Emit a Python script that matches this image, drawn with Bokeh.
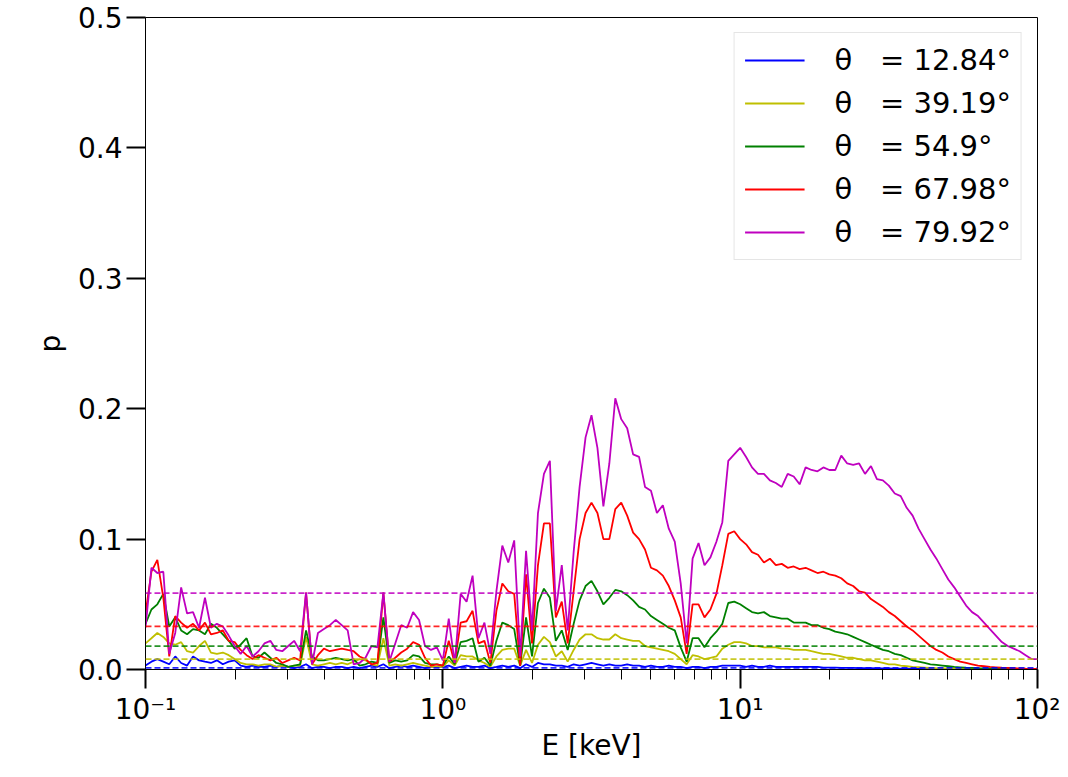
from bokeh.plotting import figure
from bokeh.models import (Span, Legend, LegendItem, CustomJSTickFormatter,
                          PrintfTickFormatter, FixedTicker, Range1d)
from bokeh.embed import file_html
from bokeh.resources import INLINE

# ---------------- data ----------------
energy_kev = [
    0.1000, 0.1047, 0.1096, 0.1148, 0.1202, 0.1259, 0.1318, 0.1380, 0.1445, 0.1514,
    0.1585, 0.1660, 0.1738, 0.1820, 0.1905, 0.1995, 0.2089, 0.2188, 0.2291, 0.2399,
    0.2512, 0.2630, 0.2754, 0.2884, 0.3020, 0.3162, 0.3311, 0.3467, 0.3631, 0.3802,
    0.3981, 0.4169, 0.4365, 0.4571, 0.4786, 0.5012, 0.5248, 0.5495, 0.5754, 0.6026,
    0.6310, 0.6607, 0.6918, 0.7244, 0.7586, 0.7943, 0.8318, 0.8710, 0.9120, 0.9550,
    1.000, 1.047, 1.096, 1.148, 1.202, 1.259, 1.318, 1.380, 1.445, 1.514,
    1.585, 1.660, 1.738, 1.820, 1.905, 1.995, 2.089, 2.188, 2.291, 2.399,
    2.512, 2.630, 2.754, 2.884, 3.020, 3.162, 3.311, 3.467, 3.631, 3.802,
    3.981, 4.169, 4.365, 4.571, 4.786, 5.012, 5.248, 5.495, 5.754, 6.026,
    6.310, 6.607, 6.918, 7.244, 7.586, 7.943, 8.318, 8.710, 9.120, 9.550,
    10.00, 10.47, 10.96, 11.48, 12.02, 12.59, 13.18, 13.80, 14.45, 15.14,
    15.85, 16.60, 17.38, 18.20, 19.05, 19.95, 20.89, 21.88, 22.91, 23.99,
    25.12, 26.30, 27.54, 28.84, 30.20, 31.62, 33.11, 34.67, 36.31, 38.02,
    39.81, 41.69, 43.65, 45.71, 47.86, 50.12, 52.48, 54.95, 57.54, 60.26,
    63.10, 66.07, 69.18, 72.44, 75.86, 79.43, 83.18, 87.10, 91.20, 95.50,
    100.0,
]

p_12_84 = [
    0.003, 0.006, 0.008, 0.006, 0.004, 0.010, 0.005, 0.003, 0.010, 0.007,
    0.006, 0.005, 0.007, 0.004, 0.006, 0.007, 0.003, 0.002, 0.003, 0.002,
    0.002, 0.003, 0.002, 0.003, 0.002, 0.001, 0.002, 0.004, 0.001, 0.002,
    0.002, 0.001, 0.002, 0.002, 0.001, 0.002, 0.001, 0.002, 0.003, 0.002,
    0.004, 0.001, 0.002, 0.003, 0.002, 0.003, 0.002, 0.001, 0.002, 0.002,
    0.002, 0.003, 0.001, 0.002, 0.003, 0.002, 0.002, 0.003, 0.001, 0.002,
    0.003, 0.002, 0.003, 0.001, 0.004, 0.002, 0.005, 0.004, 0.004, 0.003,
    0.003, 0.002, 0.004, 0.003, 0.004, 0.005, 0.004, 0.003, 0.004, 0.003,
    0.003, 0.004, 0.003, 0.003, 0.002, 0.003, 0.002, 0.002, 0.003, 0.002,
    0.002, 0.001, 0.002, 0.002, 0.001, 0.002, 0.002, 0.003, 0.003, 0.003,
    0.003, 0.002, 0.003, 0.002, 0.002, 0.003, 0.002, 0.002, 0.002, 0.002,
    0.002, 0.002, 0.002, 0.002, 0.0015, 0.0015, 0.0015, 0.0012, 0.0012, 0.0012,
    0.001, 0.001, 0.001, 0.0009, 0.0008, 0.0008, 0.0007, 0.0006, 0.0006, 0.0005,
    0.0005, 0.0004, 0.0004, 0.0003, 0.0003, 0.0003, 0.0002, 0.0002, 0.0002, 0.0002,
    0.0001, 0.0001, 0.0001, 0.0001, 0.0001, 0.0001, 0.0001, 0.0001, 0.0001, 0.0001,
    0.0001,
]

p_39_19 = [
    0.020, 0.024, 0.028, 0.025, 0.020, 0.019, 0.021, 0.014, 0.013, 0.018,
    0.022, 0.013, 0.012, 0.013, 0.011, 0.008, 0.005, 0.004, 0.004, 0.003,
    0.004, 0.004, 0.002, 0.003, 0.002, 0.003, 0.003, 0.025, 0.004, 0.003,
    0.004, 0.005, 0.004, 0.005, 0.004, 0.006, 0.008, 0.007, 0.004, 0.003,
    0.024, 0.003, 0.004, 0.003, 0.004, 0.005, 0.004, 0.003, 0.002, 0.002,
    0.002, 0.007, 0.003, 0.011, 0.010, 0.010, 0.007, 0.005, 0.002, 0.010,
    0.015, 0.016, 0.016, 0.003, 0.015, 0.005, 0.019, 0.025, 0.021, 0.010,
    0.014, 0.006, 0.015, 0.023, 0.027, 0.027, 0.024, 0.023, 0.023, 0.027,
    0.024, 0.023, 0.022, 0.022, 0.018, 0.017, 0.016, 0.015, 0.014, 0.012,
    0.008, 0.004, 0.011, 0.010, 0.008, 0.009, 0.010, 0.016, 0.019, 0.021,
    0.021, 0.020, 0.018, 0.018, 0.017, 0.017, 0.017, 0.016, 0.016, 0.015,
    0.015, 0.015, 0.014, 0.013, 0.012, 0.012, 0.011, 0.010, 0.009, 0.009,
    0.008, 0.007, 0.007, 0.006, 0.005, 0.004, 0.004, 0.003, 0.0025, 0.002,
    0.0018, 0.0015, 0.0012, 0.001, 0.0009, 0.0008, 0.0007, 0.0006, 0.0005, 0.0005,
    0.0004, 0.0004, 0.0003, 0.0003, 0.0003, 0.0002, 0.0002, 0.0002, 0.0001, 0.0001,
    0.0001,
]

p_54_9 = [
    0.035, 0.046, 0.050, 0.058, 0.033, 0.040, 0.030, 0.027, 0.031, 0.030,
    0.027, 0.035, 0.032, 0.027, 0.022, 0.016, 0.019, 0.024, 0.010, 0.009,
    0.013, 0.009, 0.005, 0.004, 0.002, 0.003, 0.004, 0.030, 0.010, 0.007,
    0.007, 0.008, 0.009, 0.008, 0.007, 0.008, 0.003, 0.004, 0.006, 0.005,
    0.040, 0.005, 0.007, 0.006, 0.007, 0.011, 0.010, 0.005, 0.004, 0.004,
    0.003, 0.010, 0.004, 0.021, 0.022, 0.024, 0.006, 0.009, 0.003, 0.022,
    0.036, 0.034, 0.031, 0.003, 0.040, 0.010, 0.051, 0.062, 0.055, 0.022,
    0.030, 0.015, 0.035, 0.053, 0.064, 0.068, 0.060, 0.050, 0.055, 0.061,
    0.060, 0.057, 0.053, 0.048, 0.046, 0.041, 0.038, 0.035, 0.032, 0.030,
    0.017, 0.006, 0.024, 0.024, 0.017, 0.024, 0.029, 0.035, 0.051, 0.052,
    0.050, 0.047, 0.044, 0.043, 0.044, 0.041, 0.040, 0.039, 0.039, 0.036,
    0.036, 0.036, 0.034, 0.034, 0.032, 0.031, 0.029, 0.028, 0.027, 0.025,
    0.023, 0.021, 0.019, 0.017, 0.015, 0.014, 0.012, 0.011, 0.009, 0.007,
    0.006, 0.005, 0.004, 0.0035, 0.003, 0.0025, 0.002, 0.0017, 0.0014, 0.0012,
    0.001, 0.0009, 0.0008, 0.0007, 0.0006, 0.0005, 0.0004, 0.0004, 0.0003, 0.0003,
    0.0002,
]

p_67_98 = [
    0.043, 0.075, 0.084, 0.055, 0.010, 0.041, 0.036, 0.032, 0.035, 0.030,
    0.036, 0.027, 0.028, 0.030, 0.022, 0.021, 0.015, 0.011, 0.008, 0.011,
    0.009, 0.007, 0.009, 0.005, 0.007, 0.009, 0.007, 0.059, 0.004, 0.011,
    0.016, 0.014, 0.015, 0.016, 0.015, 0.014, 0.010, 0.008, 0.004, 0.005,
    0.059, 0.006, 0.009, 0.013, 0.016, 0.021, 0.019, 0.009, 0.003, 0.004,
    0.003, 0.022, 0.005, 0.036, 0.037, 0.045, 0.020, 0.022, 0.005, 0.045,
    0.066, 0.060, 0.058, 0.003, 0.073, 0.020, 0.080, 0.112, 0.112, 0.040,
    0.052, 0.020, 0.060, 0.100, 0.120, 0.128, 0.120, 0.100, 0.100, 0.123,
    0.128, 0.118, 0.105, 0.100, 0.092, 0.078, 0.076, 0.072, 0.064, 0.053,
    0.040, 0.012, 0.050, 0.050, 0.040, 0.046, 0.058, 0.080, 0.104, 0.106,
    0.100, 0.096, 0.090, 0.088, 0.082, 0.085, 0.080, 0.081, 0.078, 0.079,
    0.077, 0.078, 0.076, 0.074, 0.075, 0.073, 0.072, 0.070, 0.066, 0.064,
    0.060, 0.059, 0.054, 0.051, 0.048, 0.044, 0.041, 0.037, 0.033, 0.030,
    0.026, 0.022, 0.018, 0.015, 0.013, 0.010, 0.008, 0.006, 0.005, 0.004,
    0.003, 0.0025, 0.002, 0.0017, 0.0014, 0.0012, 0.001, 0.0008, 0.0006, 0.0005,
    0.0004,
]

p_79_92 = [
    0.032, 0.078, 0.074, 0.075, 0.012, 0.028, 0.063, 0.043, 0.044, 0.032,
    0.055, 0.032, 0.035, 0.033, 0.026, 0.018, 0.012, 0.018, 0.010, 0.014,
    0.020, 0.022, 0.015, 0.014, 0.018, 0.022, 0.014, 0.059, 0.004, 0.028,
    0.031, 0.034, 0.038, 0.034, 0.030, 0.004, 0.005, 0.009, 0.018, 0.017,
    0.059, 0.006, 0.020, 0.034, 0.032, 0.044, 0.038, 0.018, 0.015, 0.017,
    0.007, 0.039, 0.005, 0.058, 0.052, 0.072, 0.024, 0.036, 0.012, 0.060,
    0.095, 0.082, 0.099, 0.010, 0.091, 0.030, 0.120, 0.150, 0.160, 0.045,
    0.080, 0.030, 0.090, 0.140, 0.178, 0.195, 0.170, 0.125, 0.158, 0.208,
    0.192, 0.185, 0.165, 0.163, 0.140, 0.137, 0.120, 0.126, 0.108, 0.098,
    0.066, 0.020, 0.085, 0.097, 0.080, 0.086, 0.098, 0.113, 0.160, 0.165,
    0.170, 0.163, 0.155, 0.150, 0.150, 0.145, 0.143, 0.140, 0.150, 0.148,
    0.142, 0.155, 0.153, 0.152, 0.155, 0.153, 0.153, 0.164, 0.158, 0.157,
    0.158, 0.150, 0.156, 0.146, 0.145, 0.141, 0.135, 0.133, 0.124, 0.118,
    0.108, 0.100, 0.092, 0.085, 0.077, 0.069, 0.063, 0.056, 0.049, 0.044,
    0.041, 0.036, 0.031, 0.026, 0.021, 0.018, 0.016, 0.014, 0.011, 0.008,
    0.008,
]

series_labels = ["12.84°", "39.19°", "54.9°", "67.98°", "79.92°"]
series_values = [p_12_84, p_39_19, p_54_9, p_67_98, p_79_92]
series_colors = ["#0000ff", "#bfbf00", "#008000", "#ff0000", "#bf00bf"]
mean_levels = [0.0012, 0.008, 0.018, 0.033, 0.0585]

x_major_ticks = [0.1, 1, 10, 100]
y_major_ticks = [0.0, 0.1, 0.2, 0.3, 0.4, 0.5]

# ---------------- figure ----------------
FONT = "DejaVu Sans"
p = figure(width=1060, height=769, x_axis_type="log",
           x_range=Range1d(0.1, 100), y_range=Range1d(0, 0.5),
           output_backend="svg", toolbar_location=None,
           min_border_left=145, min_border_right=23,
           min_border_top=17, min_border_bottom=100)
p.xgrid.visible = False
p.ygrid.visible = False
p.outline_line_color = "black"
p.outline_line_width = 1
p.background_fill_color = "white"
p.border_fill_color = "white"

minor = [m * d for d in [0.1, 1, 10] for m in range(2, 10)]
p.xaxis.ticker = FixedTicker(ticks=x_major_ticks, minor_ticks=minor)
p.xaxis.formatter = CustomJSTickFormatter(code="""
const sup = {'-': '\\u207b', '0': '\\u2070', '1': '\\u00b9', '2': '\\u00b2', '3': '\\u00b3',
             '4': '\\u2074', '5': '\\u2075', '6': '\\u2076', '7': '\\u2077', '8': '\\u2078', '9': '\\u2079'};
const e = Math.round(Math.log10(tick));
return '10' + String(e).split('').map(c => sup[c]).join('');
""")
p.yaxis.ticker = FixedTicker(ticks=y_major_ticks)
p.yaxis.formatter = PrintfTickFormatter(format="%.1f")

for ax in (p.xaxis, p.yaxis):
    ax.axis_line_color = "black"
    ax.axis_line_width = 1
    ax.major_tick_in = 0
    ax.major_tick_out = 19
    ax.major_tick_line_width = 2
    ax.minor_tick_in = 0
    ax.minor_tick_out = 10
    ax.minor_tick_line_width = 1
    ax.major_label_text_font = FONT
    ax.major_label_text_font_size = "28px"
    ax.major_label_text_color = "black"
    ax.axis_label_text_font = FONT
    ax.axis_label_text_font_size = "28px"
    ax.axis_label_text_font_style = "normal"
    ax.axis_label_text_color = "black"
p.yaxis.minor_tick_line_color = None
p.xaxis.major_label_standoff = 4
p.yaxis.major_label_standoff = 4
p.xaxis.axis_label = "E [keV]"
p.yaxis.axis_label = "p"
p.xaxis.axis_label_standoff = 0
p.yaxis.axis_label_standoff = 8

items = []
for vals, col, lab, mean in zip(series_values, series_colors, series_labels, mean_levels):
    r = p.line(energy_kev, vals, line_color=col, line_width=1.8)
    p.add_layout(Span(location=mean, dimension="width", line_color=col,
                      line_width=1.8, line_dash="6 3", line_alpha=0.85))
    items.append(LegendItem(label="\u03b8\u00a0\u00a0\u00a0= " + lab, renderers=[r]))

legend = Legend(items=items, location="top_right")
legend.margin = 15
legend.padding = 10
legend.spacing = 9
legend.glyph_width = 60
legend.glyph_height = 30
legend.label_standoff = 30
legend.label_text_font = FONT
legend.label_text_font_size = "29px"
legend.label_text_color = "black"
legend.border_line_color = "#cccccc"
legend.border_line_width = 1
legend.background_fill_alpha = 0.8
p.add_layout(legend)

open("out.html", "w").write(file_html(p, INLINE))
